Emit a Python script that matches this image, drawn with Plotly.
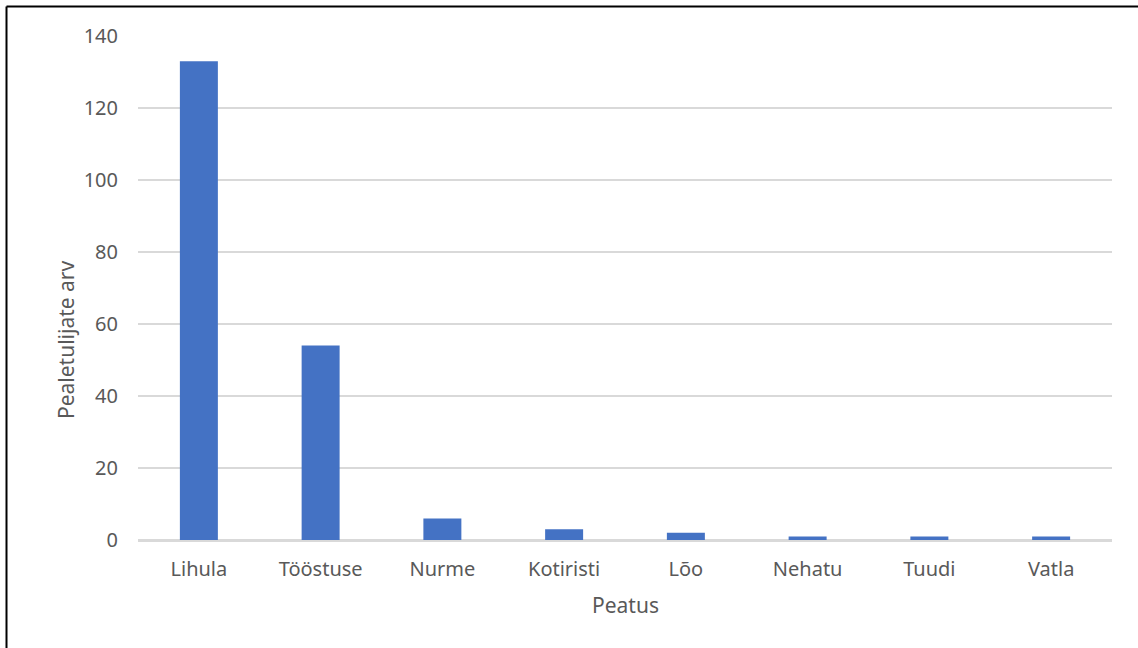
import plotly.graph_objects as go

categories = ["Lihula", "Tööstuse", "Nurme", "Kotiristi", "Lõo", "Nehatu", "Tuudi", "Vatla"]
values = [133, 54, 6, 3, 2, 1, 1, 1]
y_ticks = [0, 20, 40, 60, 80, 100, 120, 140]

W, H = 1138, 648
L, R, T, B = 138, 26, 36, 108
pw, ph = W - L - R, H - T - B


def px_x(p):
    return (p - L) / pw


def px_y(p):
    return (H - B - p) / ph


fig = go.Figure(go.Bar(x=categories, y=values, marker_color="#4472C4",
                       marker_line_width=0))

font_fam = "Noto Sans, Open Sans, sans-serif"
grey = "#595959"
fig.update_layout(
    width=W, height=H,
    margin=dict(l=L, r=R, t=T, b=B, autoexpand=False),
    paper_bgcolor="white", plot_bgcolor="white",
    bargap=0.688,
    showlegend=False,
    font=dict(family=font_fam, color=grey, size=20),
    xaxis=dict(
        showgrid=False, showline=True, linecolor="#d9d9d9", linewidth=1.5,
        ticks="", ticklabelstandoff=10, tickfont=dict(size=20, color=grey),
    ),
    yaxis=dict(
        range=[0, 140], tickvals=y_ticks, showgrid=True, gridcolor="#d9d9d9",
        gridwidth=1.5, zeroline=True, zerolinecolor="#d9d9d9", zerolinewidth=1.5,
        ticks="", ticklabelstandoff=19, tickfont=dict(size=20, color=grey),
    ),
    annotations=[
        dict(text="Peatus", xref="paper", yref="paper", x=px_x(625), y=px_y(605),
             showarrow=False, xanchor="center", yanchor="middle",
             font=dict(size=21, color=grey)),
        dict(text="Pealetulijate arv", xref="paper", yref="paper", x=px_x(66), y=px_y(340),
             showarrow=False, xanchor="center", yanchor="middle", textangle=-90,
             font=dict(size=21, color=grey)),
    ],
    shapes=[
        dict(type="line", xref="paper", yref="paper",
             x0=px_x(6.5), x1=px_x(W + 10),
             y0=px_y(6.5), y1=px_y(6.5),
             line=dict(color="black", width=2)),
        dict(type="line", xref="paper", yref="paper",
             x0=px_x(6.5), x1=px_x(6.5),
             y0=px_y(6.5), y1=px_y(H + 10),
             line=dict(color="black", width=2)),
    ],
)

fig.write_html("out.html", config={"displayModeBar": False},
               post_script="document.body.style.margin='0';")
